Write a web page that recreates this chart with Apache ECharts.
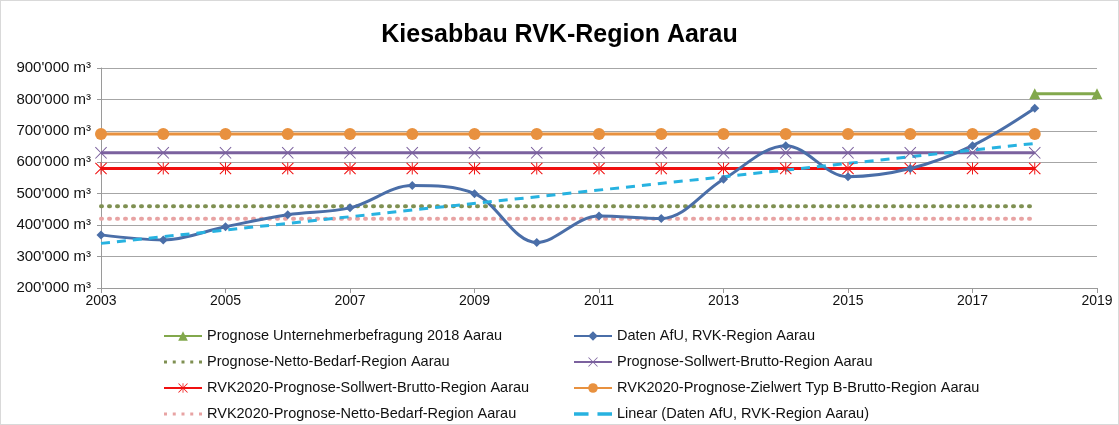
<!DOCTYPE html>
<html>
<head>
<meta charset="utf-8">
<script src="https://cdn.jsdelivr.net/npm/echarts@6/dist/echarts.min.js"></script>
<style>
  html, body { margin: 0; padding: 0; background: #fff; }
  #main { width: 1117px; height: 423px; border: 1px solid #d9d9d9; }
</style>
</head>
<body>
<div id="main"></div>
<script>
// Jahre auf der x-Achse
var years = ["2003","2004","2005","2006","2007","2008","2009","2010","2011","2012","2013","2014","2015","2016","2017","2018","2019"];

var datenAfU = [369000, 353000, 395000, 433000, 455000, 526000, 500000, 345000, 429000, 421000, 546000, 653000, 554000, 580000, 653000, 772000, null];
var unternehmerbefragung = [null, null, null, null, null, null, null, null, null, null, null, null, null, null, null, 818000, 818000];
var trendLinear = [342000, null, null, null, null, null, null, null, null, null, null, null, null, null, null, 660000, null];

var nettoBedarf = 460;     // x1000 m³
var sollwertBrutto = 630;
var rvkSollwert = 580;
var rvkZielwertB = 690;
var rvkNettoBedarf = 420;

var n2018 = 16; // Linien laufen 2003 bis 2018
function flat(v) {
  var arr = [];
  for (var i = 0; i < years.length; i++) arr.push(i < n2018 ? v * 1000 : null);
  return arr;
}

var xSymbol = "path://M0,0.6L0.6,0L5,4.4L9.4,0L10,0.6L5.6,5L10,9.4L9.4,10L5,5.6L0.6,10L0,9.4L4.4,5Z";
var starSymbol = "path://M0,0.6L0.6,0L5,4.4L9.4,0L10,0.6L5.6,5L10,9.4L9.4,10L5,5.6L0.6,10L0,9.4L4.4,5ZM4.6,0L5.4,0L5.4,10L4.6,10Z";
var dotsIcon = "path://M0,0h3v3h-3zM8.75,0h3v3h-3zM17.5,0h3v3h-3zM26.25,0h3v3h-3zM35,0h3v3h-3z";
var dashIcon = "path://M0,0h13v3h-13zM21,0h13v3h-13z";

var myChart = echarts.init(document.getElementById("main"));
var font = "Liberation Sans, Arial, sans-serif";

var legendBase = {
  orient: "vertical",
  top: 327,
  padding: 0,
  itemWidth: 38,
  itemHeight: 12,
  itemGap: 10,
  textStyle: { fontSize: 14.5, color: "#111", lineHeight: 16 }
};

var option = {
  animation: false,
  textStyle: { fontFamily: font },
  title: {
    text: "Kiesabbau RVK-Region Aarau",
    left: "center",
    top: 17,
    textStyle: { fontSize: 25, fontWeight: "bold", color: "#000", fontFamily: font }
  },
  grid: { left: 100, right: 21, top: 67, bottom: 136 },
  xAxis: {
    type: "category",
    data: years,
    boundaryGap: false,
    axisLine: { lineStyle: { color: "#9a9a9a", width: 1 } },
    axisTick: { interval: 1, length: 5, lineStyle: { color: "#9a9a9a" } },
    axisLabel: { interval: 1, color: "#111", fontSize: 14, margin: 6 },
    splitLine: { show: false }
  },
  yAxis: {
    type: "value",
    min: 200000,
    max: 900000,
    interval: 100000,
    axisLine: { show: true, lineStyle: { color: "#9a9a9a" } },
    axisTick: { show: true, length: 4, lineStyle: { color: "#9a9a9a" } },
    axisLabel: {
      color: "#111",
      fontSize: 15,
      margin: 10,
      formatter: function (v) {
        return String(v).replace(/\B(?=(\d{3})+(?!\d))/g, "'") + " m³";
      }
    },
    splitLine: { lineStyle: { color: "#a6a6a6", width: 1 } }
  },
  legend: [
    Object.assign({}, legendBase, {
      left: 162,
      data: [
        { name: "Prognose Unternehmerbefragung 2018 Aarau" },
        { name: "Prognose-Netto-Bedarf-Region Aarau", icon: dotsIcon, itemHeight: 3 },
        { name: "RVK2020-Prognose-Sollwert-Brutto-Region Aarau" },
        { name: "RVK2020-Prognose-Netto-Bedarf-Region Aarau", icon: dotsIcon, itemHeight: 3 }
      ]
    }),
    Object.assign({}, legendBase, {
      left: 572,
      data: [
        { name: "Daten AfU, RVK-Region Aarau" },
        { name: "Prognose-Sollwert-Brutto-Region Aarau" },
        { name: "RVK2020-Prognose-Zielwert Typ B-Brutto-Region Aarau" },
        { name: "Linear (Daten AfU, RVK-Region Aarau)", icon: dashIcon, itemHeight: 3 }
      ]
    })
  ],
  series: [
    {
      name: "Prognose-Netto-Bedarf-Region Aarau",
      type: "line",
      data: flat(nettoBedarf),
      symbol: "none",
      lineStyle: { color: "#7f9052", width: 4, type: [1, 7], cap: "round" },
      itemStyle: { color: "#7f9052" }
    },
    {
      name: "RVK2020-Prognose-Netto-Bedarf-Region Aarau",
      type: "line",
      data: flat(rvkNettoBedarf),
      symbol: "none",
      lineStyle: { color: "#e8a3a3", width: 4, type: [1, 7], cap: "round" },
      itemStyle: { color: "#e8a3a3" }
    },
    {
      name: "RVK2020-Prognose-Zielwert Typ B-Brutto-Region Aarau",
      type: "line",
      data: flat(rvkZielwertB),
      symbol: "circle",
      symbolSize: 12,
      lineStyle: { color: "#e8913f", width: 3 },
      itemStyle: { color: "#e8913f" }
    },
    {
      name: "Prognose-Sollwert-Brutto-Region Aarau",
      type: "line",
      data: flat(sollwertBrutto),
      symbol: xSymbol,
      symbolSize: 12,
      lineStyle: { color: "#7b619e", width: 3 },
      itemStyle: { color: "#7b619e" }
    },
    {
      name: "RVK2020-Prognose-Sollwert-Brutto-Region Aarau",
      type: "line",
      data: flat(rvkSollwert),
      symbol: starSymbol,
      symbolSize: 12,
      lineStyle: { color: "#f01010", width: 3 },
      itemStyle: { color: "#f01010" }
    },
    {
      name: "Prognose Unternehmerbefragung 2018 Aarau",
      type: "line",
      data: unternehmerbefragung,
      symbol: "triangle",
      symbolSize: 11,
      lineStyle: { color: "#82a84c", width: 3 },
      itemStyle: { color: "#82a84c" }
    },
    {
      name: "Daten AfU, RVK-Region Aarau",
      type: "line",
      data: datenAfU,
      smooth: 0.35,
      symbol: "diamond",
      symbolSize: 9,
      lineStyle: { color: "#4a6ea8", width: 3 },
      itemStyle: { color: "#4a6ea8" }
    },
    {
      name: "Linear (Daten AfU, RVK-Region Aarau)",
      type: "line",
      data: trendLinear,
      connectNulls: true,
      symbol: "none",
      lineStyle: { color: "#27b2e0", width: 3, type: [9, 7] },
      itemStyle: { color: "#27b2e0" }
    }
  ]
};
myChart.setOption(option);
</script>
</body>
</html>
